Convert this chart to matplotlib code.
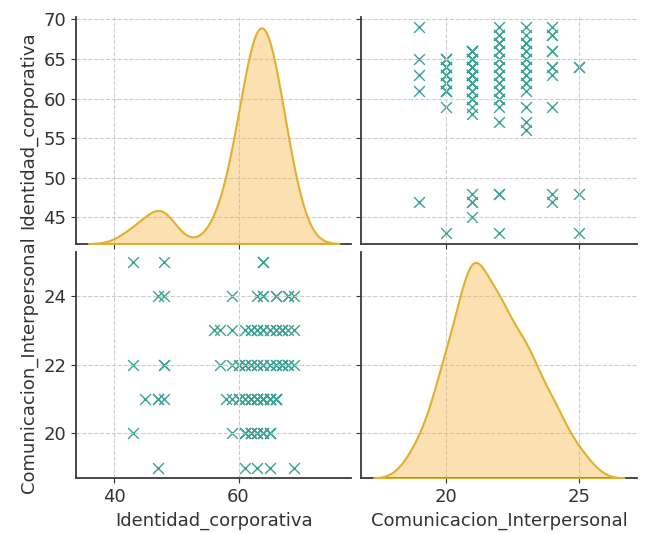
import numpy as np
import pandas as pd
import matplotlib
matplotlib.use("Agg")
import matplotlib.pyplot as plt
import seaborn as sns

# Identidad_corporativa values read per Comunicacion_Interpersonal level
# (repeated values stand for overlapping points)
ident_19 = [69, 65, 63, 61, 47]
ident_20 = [65, 64, 63, 62, 61, 59, 43,
            61, 62, 62, 63, 63, 64, 64, 65, 65, 61]
ident_21 = [66, 65, 64, 63, 62, 61, 60, 59, 58, 48, 47, 45, 47,
            60, 60, 61, 62, 62, 63, 63, 63, 64, 64, 64, 65, 65, 65,
            66, 66, 66, 62, 64, 63]
ident_22 = [69, 68, 67, 66, 65, 64, 63, 62, 61, 60, 59, 57, 48, 43, 48,
            60, 61, 62, 63, 64, 65, 66, 67, 67, 68]
ident_23 = [69, 68, 67, 66, 65, 64, 63, 62, 61, 59, 57, 56,
            63, 64, 65, 66, 67, 67, 62]
ident_24 = [69, 68, 66, 64, 63, 59, 48, 47, 64, 66, 68]
ident_25 = [64, 48, 43, 64]

comm_levels = [19, 20, 21, 22, 23, 24, 25]
ident_lists = [ident_19, ident_20, ident_21, ident_22, ident_23, ident_24, ident_25]

rows = []
for c, lst in zip(comm_levels, ident_lists):
    for v in lst:
        rows.append((v, c))
df = pd.DataFrame(rows, columns=["Identidad_corporativa", "Comunicacion_Interpersonal"])

plt.rcParams.update({
    "font.family": ["DejaVu Sans"],
    "font.size": 13,
    "axes.labelsize": 13,
    "xtick.labelsize": 13,
    "ytick.labelsize": 13,
    "axes.edgecolor": "#3a3a3a",
    "axes.linewidth": 1.3,
    "axes.labelcolor": "#333333",
    "xtick.color": "#333333",
    "ytick.color": "#333333",
    "axes.grid": True,
    "grid.color": "#cccccc",
    "grid.linestyle": "--",
    "grid.linewidth": 0.8,
})

g = sns.pairplot(df, diag_kind="kde", markers="x",
                 plot_kws=dict(color="#3aa394", s=60, linewidth=1.0),
                 diag_kws=dict(color="#e8b030", fill=True, alpha=0.4, linewidth=1.5))
g.figure.set_size_inches(6.55, 5.33)
g.figure.subplots_adjust(left=0.116, right=0.972, top=0.968, bottom=0.103,
                         wspace=0.036, hspace=0.035)

for ax in g.diag_axes:
    ax.grid(False)
    for line in ax.lines:
        line.set_color("#e0b030")
    for coll in ax.collections:
        coll.set_facecolor((0.96, 0.70, 0.25, 0.4))
        coll.set_edgecolor("#e0b030")

g.axes[0, 0].set_yticks([45, 50, 55, 60, 65, 70])
g.axes[1, 0].set_yticks([20, 22, 24])
g.axes[1, 0].set_xticks([40, 60])
g.axes[1, 1].set_xticks([20, 25])

g.figure.savefig("out.png", dpi=100)
